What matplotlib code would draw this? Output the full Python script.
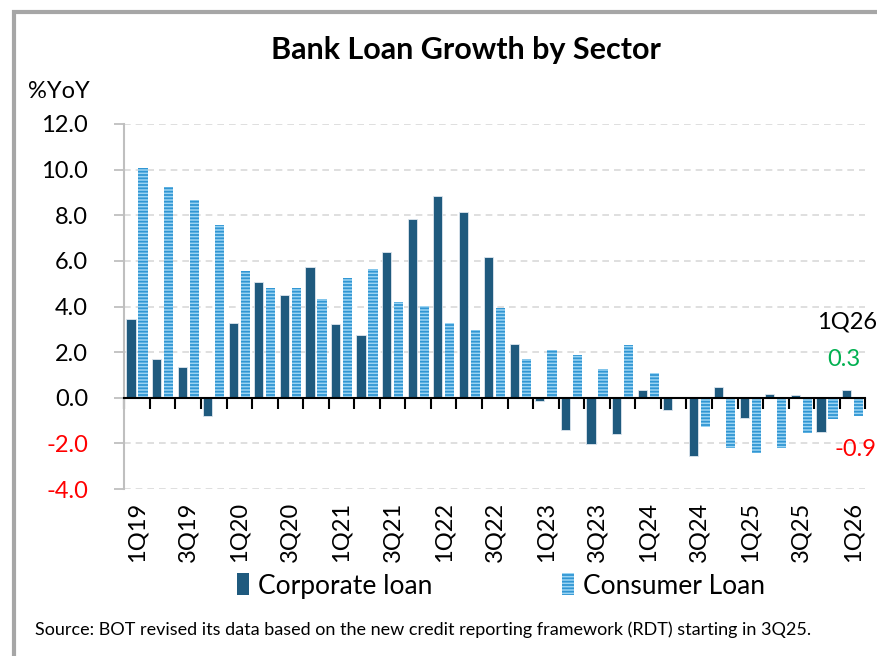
import numpy as np
import matplotlib
matplotlib.use("Agg")
import matplotlib.pyplot as plt
from matplotlib.patches import Patch, Rectangle

plt.rcParams["font.family"] = ["Lato", "DejaVu Sans"]
plt.rcParams["hatch.linewidth"] = 1.3

# ── Data ──────────────────────────────────────────────────────────────────────
quarters = [
    "1Q19", "2Q19", "3Q19", "4Q19", "1Q20", "2Q20", "3Q20", "4Q20",
    "1Q21", "2Q21", "3Q21", "4Q21", "1Q22", "2Q22", "3Q22", "4Q22",
    "1Q23", "2Q23", "3Q23", "4Q23", "1Q24", "2Q24", "3Q24", "4Q24",
    "1Q25", "2Q25", "3Q25", "4Q25", "1Q26",
]
corporate = [
    3.45, 1.69, 1.34, -0.82, 3.27, 5.09, 4.51, 5.74,
    3.23, 2.73, 6.38, 7.84, 8.83, 8.13, 6.15, 2.34,
    -0.15, -1.40, -2.04, -1.60, 0.33, -0.53, -2.56, 0.46,
    -0.88, 0.16, 0.12, -1.50, 0.34,
]
consumer = [
    10.09, 9.26, 8.66, 7.58, 5.56, 4.82, 4.82, 4.34,
    5.27, 5.66, 4.20, 4.01, 3.27, 2.96, 3.93, 1.68,
    2.09, 1.88, 1.26, 2.32, 1.08, -0.05, -1.28, -2.19,
    -2.44, -2.19, -1.56, -0.95, -0.79,
]
yticks = [-4, -2, 0, 2, 4, 6, 8, 10, 12]

corp_color = "#1F5A7E"
cons_face = "#9BD4F3"
cons_stripe = "#3196D3"

# ── Figure ────────────────────────────────────────────────────────────────────
fig = plt.figure(figsize=(8.78, 6.56), dpi=100)
ax = fig.add_axes([124.3 / 878, 1 - 489 / 656, 741 / 878, 365 / 656])

x = np.arange(len(quarters))
w = 0.36
ax.bar(x - 0.235, corporate, w, color=corp_color, edgecolor="#DDE6EE",
       linewidth=0.6, zorder=3)
ax.bar(x + 0.235, consumer, w, color=cons_face, edgecolor=cons_stripe,
       linewidth=0, hatch="-----", zorder=3)

ax.set_xlim(-0.5, len(quarters) - 0.5)
ax.set_ylim(-4, 12)

# y axis
ax.set_yticks(yticks)
ax.set_yticklabels([f"{v:.1f}" for v in yticks], fontsize=17)
for lbl, v in zip(ax.get_yticklabels(), yticks):
    if v < 0:
        lbl.set_color("#FF0000")
ax.tick_params(axis="y", length=7, width=1.3, color="#BFBFBF", pad=19)
ax.yaxis.grid(True, ls=(0, (4, 3)), color="#D9D9D9", lw=1.2, zorder=0)

# x axis at zero with boundary ticks
ax.spines["bottom"].set_position(("data", 0))
ax.spines["bottom"].set_color("black")
ax.spines["bottom"].set_linewidth(1.5)
ax.spines["bottom"].set_zorder(4)
ax.set_xticks(x)
ax.set_xticklabels([])
ax.set_xticks(np.arange(len(quarters) + 1) - 0.5, minor=True)
ax.tick_params(axis="x", which="major", length=0)
ax.tick_params(axis="x", which="minor", length=8, width=1.5, color="black",
               direction="out")
for s in ["top", "right"]:
    ax.spines[s].set_visible(False)
ax.spines["left"].set_color("#BFBFBF")
ax.spines["left"].set_linewidth(1.5)

# category labels below the plot
sec = ax.secondary_xaxis(0.0)
sec.set_xticks(x[::2])
sec.set_xticklabels(quarters[::2], rotation=90, fontsize=17)
sec.tick_params(length=0, pad=9)
sec.spines["bottom"].set_visible(False)

# annotations for latest quarter
ax.text(28.95, 3.32, "1Q26", ha="right", va="center", fontsize=17,
        color="black", clip_on=False)
ax.text(28.3, 1.66, "0.3", ha="right", va="center", fontsize=17,
        color="#00B050", clip_on=False)
ax.text(28.95, -2.29, "-0.9", ha="right", va="center", fontsize=17,
        color="#FF0000", clip_on=False)

# titles / text
fig.text(466 / 878, 1 - 50 / 656, "Bank Loan Growth by Sector", ha="center",
         va="center", fontsize=22, fontweight="bold")
fig.text(90 / 878, 1 - 91 / 656, "%YoY", ha="right", va="center", fontsize=17)
fig.text(35 / 878, 1 - 630 / 656,
         "Source: BOT revised its data based on the new credit reporting "
         "framework (RDT) starting in 3Q25.",
         ha="left", va="center", fontsize=13)

handles = [
    Patch(facecolor=corp_color, edgecolor="none", label="Corporate loan"),
    Patch(facecolor=cons_face, edgecolor=cons_stripe, linewidth=0,
          hatch="-----", label="Consumer Loan"),
]
fig.legend(handles=handles, loc="center", bbox_to_anchor=(501 / 878, 1 - 586 / 656),
           ncol=2, frameon=False, fontsize=19, handlelength=0.45,
           handleheight=0.9, handletextpad=0.34, columnspacing=4.9)

# gray frame
fig.add_artist(Rectangle((14 / 878, -0.5), 2, 0.5 + 1 - 12 / 656,
                         transform=fig.transFigure, fill=False,
                         edgecolor="#A6A6A6", linewidth=3))

fig.savefig("out.png", dpi=100)
